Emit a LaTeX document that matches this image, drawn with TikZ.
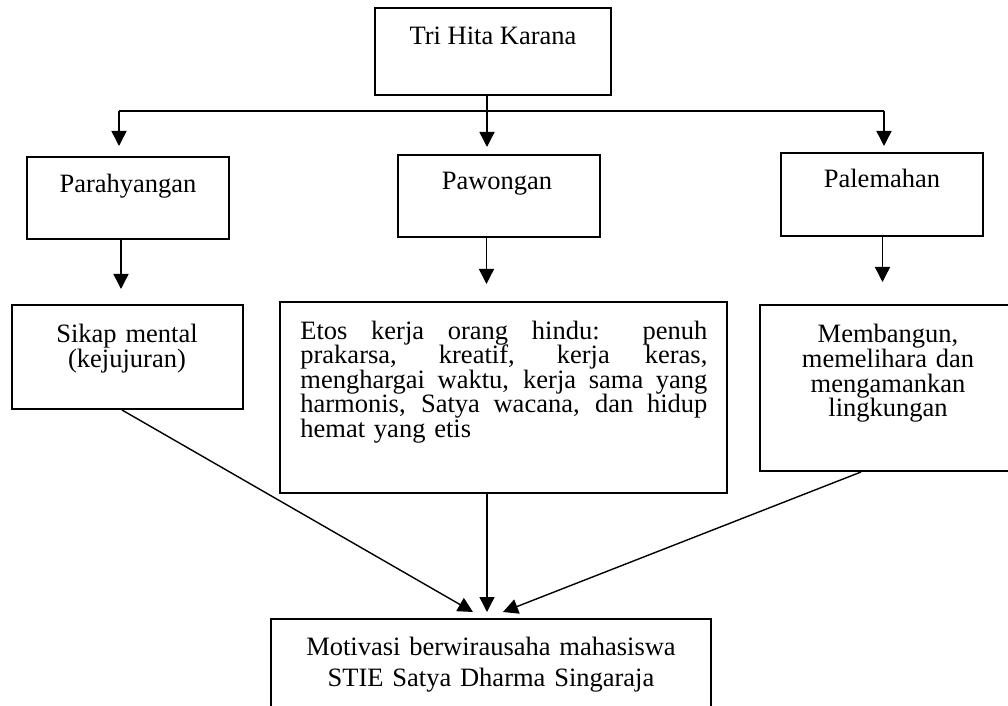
\documentclass[tikz,border=0pt]{standalone}
\usepackage{fontspec}
\setmainfont{Liberation Serif}
\usetikzlibrary{arrows.meta,calc}
\newcommand\jline[1]{\leavevmode\hbox to 203.5pt{\spaceskip=0pt\xspaceskip=0pt\relax #1}}
\begin{document}
\begin{tikzpicture}[x=0.5pt,y=-0.5pt,
  box/.style={draw,line width=1pt,rectangle,inner sep=0pt},
  lbl/.style={font=\fontsize{13.25pt}{12.3pt}\selectfont, inner sep=0pt, anchor=base, align=center},
  con/.style={line width=0.7pt},
  arr/.style={con,-{Triangle[length=7.5pt,width=7.5pt]}}]
\useasboundingbox (0,0) rectangle (1008,706);
\clip (0,0) rectangle (1008,706);
% boxes
\node[box,minimum width=118pt,minimum height=43.5pt] (tri) at (493,51.5) {};
\node[box,minimum width=101pt,minimum height=41pt] (para) at (128,198) {};
\node[box,minimum width=101pt,minimum height=41pt] (pawo) at (499,196) {};
\node[box,minimum width=101pt,minimum height=41.5pt] (pale) at (882,194.5) {};
\node[box,minimum width=115.5pt,minimum height=52pt] (sikap) at (127.5,357) {};
\node[box,minimum width=223.5pt,minimum height=95.5pt] (etos) at (503.5,397.5) {};
\node[box,minimum width=128pt,minimum height=83pt] (memb) at (888,388) {};
\node[box,minimum width=220pt,minimum height=70.5pt] (moti) at (491,689.5) {};
% texts
\node[lbl] (tri-t) at (493,45) {Tri Hita Karana};
\node[lbl] (para-t) at (128,193) {Parahyangan};
\node[lbl] (pawo-t) at (497,190) {Pawongan};
\node[lbl] (pale-t) at (882,188) {Palemahan};
\node[lbl,text width=110pt] (sikap-t) at (127,343) {Sikap mental\\(kejujuran)};
\node[lbl,anchor=base west,text width=203.5pt,align=left] (etos-t) at (300,339)
  {\jline{Etos kerja orang hindu: penuh}\\
   \jline{prakarsa, kreatif, kerja keras,}\\
   \jline{menghargai waktu, kerja sama yang}\\
   \jline{harmonis, Satya wacana, dan hidup}\\
   hemat yang etis};
\node[lbl,text width=120pt] (memb-t) at (888,343) {Membangun,\\memelihara dan\\mengamankan\\lingkungan};
\node[lbl,text width=210pt,font=\fontsize{13.25pt}{15.5pt}\selectfont] (moti-t) at (491,655) {Motivasi berwirausaha mahasiswa\\STIE Satya Dharma Singaraja};
% connectors
\coordinate (j) at (487,111);
\coordinate (jl) at (119,111);
\coordinate (jr) at (884,111);
\draw[con] (tri.south -| j) -- (j);
\draw[con] (jl) -- (jr);
\draw[arr,shorten >=5pt] (jl) -- (jl |- para.north);
\draw[arr,shorten >=3.5pt] (j) -- (j |- pawo.north);
\draw[arr,shorten >=3pt] (jr) -- (jr |- pale.north);
\draw[arr,shorten >=7.5pt] ($(para.south)+(-7,0)$) -- ($(sikap.north)+(-6.5,0)$);
\draw[arr,shorten >=8.5pt] ($(pawo.south)+(-12.5,0)$) -- ($(etos.north)+(-17,0)$);
\draw[arr,shorten >=11pt] ($(pale.south)+(0.5,0)$) -- ($(memb.north)+(-5.5,0)$);
\draw[arr] ($(sikap.south)+(-5.5,0)$) -- ($(moti.north)+(-18,-6)$);
\draw[arr] ($(etos.south)+(-16.5,0)$) -- ($(moti.north)+(-4,-6)$);
\draw[arr] ($(memb.south)+(-27,0)$) -- ($(moti.north)+(12,-6)$);
\end{tikzpicture}
\end{document}
